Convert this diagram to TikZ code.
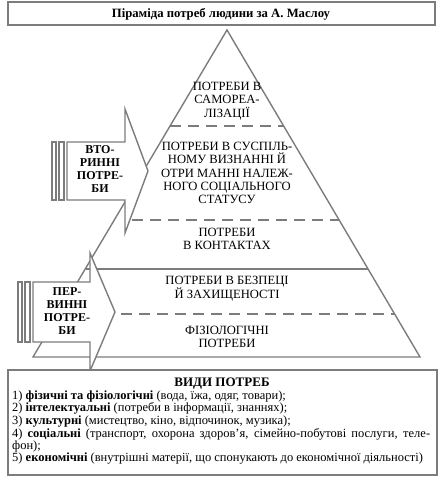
\documentclass[tikz,border=0pt]{standalone}
\usepackage{fontspec}
\setmainfont{Liberation Serif}
\definecolor{lgray}{HTML}{7C7C7C}
\begin{document}
\begin{tikzpicture}[x=1pt,y=-1pt,
  ln/.style={draw=lgray, line width=1.4pt},
  dsh/.style={ln, dash pattern=on 11pt off 7pt},
  boxln/.style={draw=lgray, line width=2pt},
  ptext/.style={font=\fontsize{12.6}{13.2}\selectfont, align=center, inner sep=0pt},
  atext/.style={font=\fontsize{12}{12.8}\selectfont\bfseries, align=center, inner sep=0pt},
  arrowshape/.style={ln, fill=white}]
\useasboundingbox (0,0) rectangle (445,485);
% title
\draw[boxln] (8,2) rectangle (435,25);
\node[inner sep=0pt, font=\fontsize{12.7}{13}\selectfont\bfseries] (title) at (221,14.5) {Піраміда потреб людини за А. Маслоу};
% pyramid
\draw[ln] (227,30) -- (420,357) -- (33,357) -- cycle;
\draw[dsh] (170.4,126) -- (283.6,126);
\draw[dsh] (132,220) -- (339.1,220);
\draw[ln] (86,269) -- (368,269);
\draw[dsh] (121,314) -- (394.6,314);
\node[ptext] (t1) at (227,101) {ПОТРЕБИ В\\САМОРЕА-\\ЛІЗАЦІЇ};
\node[ptext] (t2) at (227,173) {ПОТРЕБИ В СУСПІЛЬ-\\НОМУ ВИЗНАННІ Й\\ОТРИ МАННІ НАЛЕЖ-\\НОГО СОЦІАЛЬНОГО\\СТАТУСУ};
\node[ptext] (t3) at (227,238.5) {ПОТРЕБИ\\В КОНТАКТАХ};
\node[ptext] (t4) at (227,288.5) {ПОТРЕБИ В БЕЗПЕЦІ\\Й ЗАХИЩЕНОСТІ};
\node[ptext] (t5) at (227,336.5) {ФІЗІОЛОГІЧНІ\\ПОТРЕБИ};
% upper arrow
\draw[arrowshape] (52,142) rectangle (56,200);
\draw[arrowshape] (59,142) rectangle (64,200);
\draw[arrowshape] (67,142) -- (125,142) -- (125,109) -- (148,171) -- (125,233) -- (125,200) -- (67,200) -- cycle;
\node[atext] (sec) at (100,169) {ВТО-\\РИННІ\\ПОТРЕ-\\БИ};
% lower arrow
\draw[arrowshape] (18,282) rectangle (22,342);
\draw[arrowshape] (25,282) rectangle (30,342);
\draw[arrowshape] (33,282) -- (90,282) -- (90,253) -- (115,312) -- (90,371) -- (90,342) -- (33,342) -- cycle;
\node[atext] (prim) at (67,311) {ПЕР-\\ВИННІ\\ПОТРЕ-\\БИ};
% info box
\draw[boxln, fill=white] (8,370) rectangle (437,475);
\node[inner sep=0pt, font=\fontsize{13}{13}\selectfont\bfseries, anchor=base] (head) at (222,386.5) {ВИДИ ПОТРЕБ};
\node[inner sep=0pt, anchor=north west, align=left, font=\fontsize{12.5}{11}\selectfont] (body) at (12,390.5) {1) \textbf{фізичні та фізіологічні} (вода, їжа, одяг, товари);\\
2) \textbf{інтелектуальні} (потреби в інформації, знаннях);\\
3) \textbf{культурні} (мистецтво, кіно, відпочинок, музика);\\
\makebox[418pt][s]{4) \textbf{соціальні} (транспорт, охорона здоров’я, сімейно-побутові послуги, теле-}\\
фон);\\
5) \textbf{економічні} (внутрішні матерії, що спонукають до економічної діяльності)};
\end{tikzpicture}
\end{document}
